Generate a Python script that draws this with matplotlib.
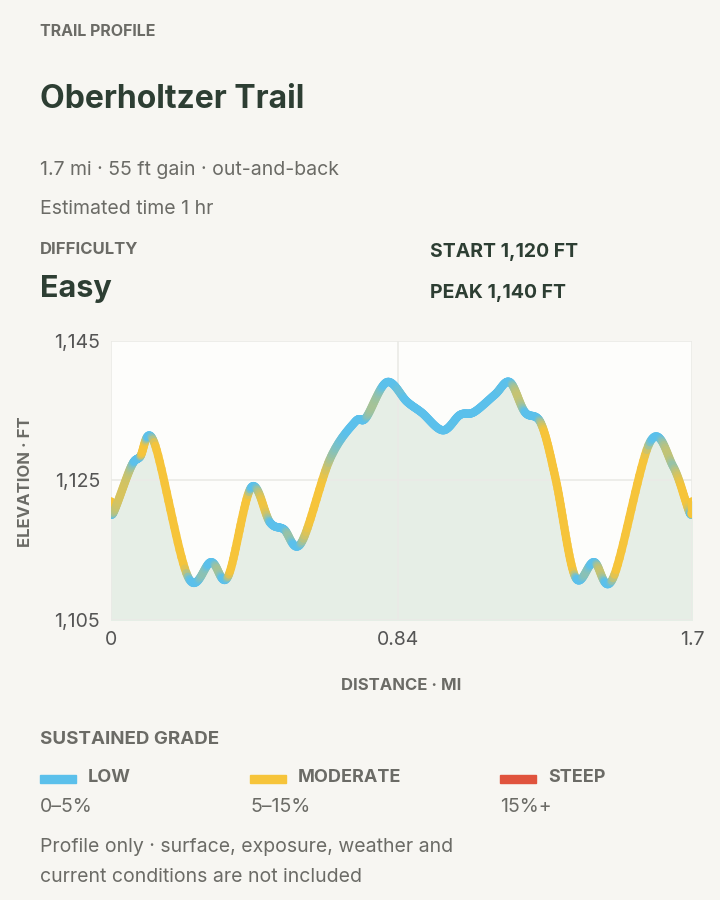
import numpy as np
import matplotlib
matplotlib.use("Agg")
import matplotlib.pyplot as plt
from matplotlib.collections import LineCollection
from matplotlib.patches import Rectangle

dist_mi = [0.0, 0.006, 0.059, 0.085, 0.126, 0.225, 0.293, 0.342, 0.410, 0.465, 0.506, 0.556,
           0.640, 0.714, 0.746, 0.807, 0.866, 0.910, 0.971, 1.021, 1.062, 1.123, 1.167, 1.211,
           1.258, 1.302, 1.358, 1.413, 1.469, 1.577, 1.645, 1.694, 1.7]
elev_ft = [1122.0, 1120.3, 1127.0, 1128.4, 1130.5, 1111.2, 1113.3, 1111.2, 1124.0, 1119.0, 1118.0, 1116.0,
           1128.0, 1133.4, 1134.0, 1139.1, 1136.3, 1134.7, 1132.2, 1134.4, 1134.8, 1137.3, 1139.1, 1134.8,
           1133.2, 1125.0, 1111.2, 1113.3, 1111.0, 1130.5, 1127.0, 1120.3, 1122.0]
y_ticks = [1105, 1125, 1145]
y_labels = ["1,105", "1,125", "1,145"]
x_ticks = [0, 0.84, 1.7]
x_labels = ["0", "0.84", "1.7"]

BG = "#F7F6F2"
DARK = "#2D3E33"
GRAY = "#6B6B66"
BLUE = np.array([0x5B, 0xC0, 0xEB]) / 255
YEL = np.array([0xF6, 0xC4, 0x3A]) / 255
RED = "#E0533D"

def catmull(x, y, n=20):
    x = np.asarray(x); y = np.asarray(y)
    xs, ys = [], []
    for i in range(len(x) - 1):
        p0 = max(i - 1, 0); p3 = min(i + 2, len(x) - 1)
        t = np.linspace(0, 1, n, endpoint=False)
        for arr, out in ((x, xs), (y, ys)):
            a0, a1, a2, a3 = arr[p0], arr[i], arr[i + 1], arr[p3]
            out.append(0.5 * ((2 * a1) + (-a0 + a2) * t + (2 * a0 - 5 * a1 + 4 * a2 - a3) * t**2
                              + (-a0 + 3 * a1 - 3 * a2 + a3) * t**3))
    xs.append([x[-1]]); ys.append([y[-1]])
    return np.concatenate(xs), np.concatenate(ys)

fig = plt.figure(figsize=(7.2, 9), dpi=100, facecolor=BG)

def T(x, y, s, size, color=DARK, weight="normal", **kw):
    fig.text(x / 720, 1 - (y + 2) / 900, s, fontsize=size, color=color, weight=weight,
             va="center", ha=kw.pop("ha", "left"), family="Inter", **kw)

T(40, 30, "TRAIL PROFILE", 11.5, GRAY, "bold")
T(40, 97, "Oberholtzer Trail", 23, DARK, "bold")
T(40, 168, "1.7 mi · 55 ft gain · out-and-back", 14, GRAY)
T(40, 207, "Estimated time 1 hr", 14, GRAY)
T(40, 247, "DIFFICULTY", 12, GRAY, "bold")
T(40, 287, "Easy", 22, DARK, "bold")
T(430, 250, "START 1,120 FT", 14, DARK, "bold")
T(430, 291, "PEAK 1,140 FT", 14, DARK, "bold")

ax = fig.add_axes([111 / 720, 1 - 620 / 900, 581 / 720, 279 / 900])
ax.set_facecolor("#FDFDFB")
xs, ys = catmull(dist_mi, elev_ft)
ax.fill_between(xs, ys, 1105, color="#E6EEE6", zorder=1)
slope = np.abs(np.gradient(ys, xs))
w = np.clip((slope - 60) / (np.percentile(slope, 80) - 60), 0, 1)
cols = [tuple(BLUE * (1 - a) + YEL * a) for a in (w[:-1] + w[1:]) / 2]
pts = np.column_stack([xs, ys]).reshape(-1, 1, 2)
segs = np.concatenate([pts[:-1], pts[1:]], axis=1)
ax.add_collection(LineCollection(segs, colors=cols, linewidths=6, capstyle="round", zorder=3))
ax.set_xlim(0, 1.7); ax.set_ylim(1105, 1145)
ax.set_xticks(x_ticks); ax.set_xticklabels(x_labels)
ax.set_yticks(y_ticks); ax.set_yticklabels(y_labels)
ax.grid(True, color="#EAEAE6", lw=1.2, zorder=0)
for s in ax.spines.values():
    s.set_visible(False)
ax.tick_params(length=0, labelsize=14, labelcolor="#555555", pad=8)
for lab in ax.get_xticklabels() + ax.get_yticklabels():
    lab.set_family("Inter")

T(18, 480, "ELEVATION · FT", 12, GRAY, "bold", rotation=90)
T(401, 684, "DISTANCE · MI", 12, GRAY, "bold", ha="center")
T(40, 737, "SUSTAINED GRADE", 13.5, GRAY, "bold")
for x0, c, name, rng in [(40, tuple(BLUE), "LOW", "0–5%"), (250, tuple(YEL), "MODERATE", "5–15%"),
                         (500, RED, "STEEP", "15%+")]:
    fig.patches.append(Rectangle((x0 / 720, 1 - 783 / 900), 36 / 720, 8 / 900,
                                 transform=fig.transFigure, color=c))
    T(x0 + 48, 776, name, 13, GRAY, "bold")
    T(x0, 805, rng, 14, GRAY)
T(40, 845, "Profile only · surface, exposure, weather and", 14, GRAY)
T(40, 875, "current conditions are not included", 14, GRAY)

fig.savefig("out.png", dpi=100, facecolor=BG)
